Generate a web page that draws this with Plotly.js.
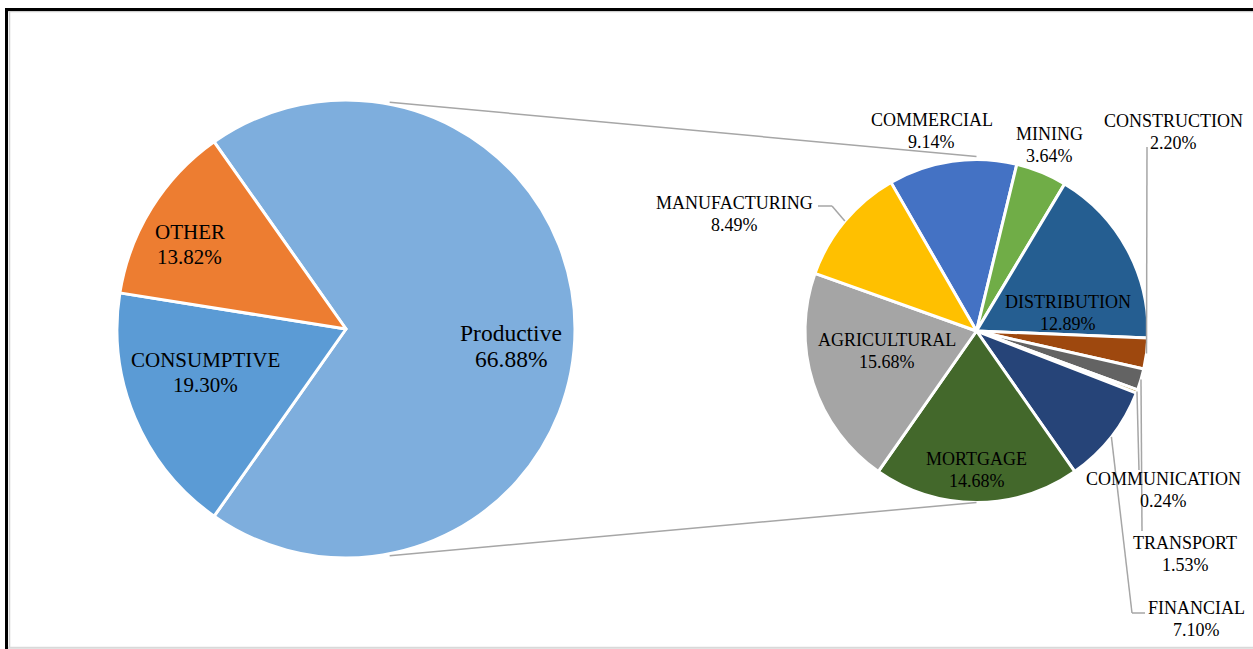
<!DOCTYPE html>
<html>
<head>
<meta charset="utf-8">
<script src="https://cdn.plot.ly/plotly-3.0.1.min.js"></script>
<style>
html,body{margin:0;padding:0;background:#fff;}
#chart{width:1253px;height:649px;}
</style>
</head>
<body>
<div id="chart"></div>
<script>
// ---------- DATA ----------
const mainLabels = ['Productive', 'CONSUMPTIVE', 'OTHER'];
const mainValues = [66.88, 19.30, 13.82];   // shown on the labels

const sectorLabels = ['COMMERCIAL', 'MINING', 'DISTRIBUTION', 'CONSTRUCTION', 'TRANSPORT',
                      'COMMUNICATION', 'FINANCIAL', 'MORTGAGE', 'AGRICULTURAL', 'MANUFACTURING'];
const sectorValues = [9.14, 3.64, 12.89, 2.20, 1.53, 0.24, 7.10, 14.68, 15.68, 8.49];

// ---------- STYLE / LAYOUT ----------
const mainColors = ['#7EAEDD', '#5B9BD5', '#ED7D31'];
const sectorColors = ['#4472C4', '#70AD47', '#255E91', '#9E480E', '#636363',
                      '#997300', '#264478', '#43682B', '#A5A5A5', '#FFC000'];

const W = 1253, H = 649;
const G1 = {cx: 346, cy: 329, r: 229};     // first pie (px)
const G2 = {cx: 976.5, cy: 331, r: 171.5}; // second pie (px)
const FONT = 'Liberation Serif, Times New Roman, serif';
const LINE_GRAY = '#A6A6A6';

// inside label placement: radius fraction, angle offset from slice mid (deg)
const insideMain = {
  'Productive':  {f: 0.724, d: 5.9,  size: 23.5, gap: 26},
  'CONSUMPTIVE': {f: 0.641, d: 5.5,  size: 21,   gap: 25},
  'OTHER':       {f: 0.776, d: -3.4, size: 21,   gap: 25}
};
const insideSector = {
  'DISTRIBUTION': {f: 0.544, d: 17.2},
  'AGRICULTURAL': {f: 0.535, d: 5.1},
  'MORTGAGE':     {f: 0.81,  d: 0}
};
// outside label placement (px) and leader waypoints
const outsideSector = {
  'MANUFACTURING': {x: 734,  y: 214, path: [[818, 206], [832, 206]]},
  'COMMERCIAL':    {x: 932,  y: 131, path: null},
  'MINING':        {x: 1049, y: 145, path: null},
  'CONSTRUCTION':  {x: 1173, y: 132, path: [[1147, 147]]},
  'TRANSPORT':     {x: 1185, y: 554, path: [[1142, 531]]},
  'COMMUNICATION': {x: 1163, y: 490, path: [[1139, 470]]},
  'FINANCIAL':     {x: 1196, y: 619, path: [[1145, 613], [1132, 613]]}
};
const sectorFont = 18, sectorGap = 22;
const connectorAngle = 11; // deg from vertical on first pie

// ---------- HELPERS ----------
const X = x => x / W;
const Y = y => 1 - y / H;
const sum = a => a.reduce((p, q) => p + q, 0);
function polar(g, thetaDeg, frac) {
  const t = thetaDeg * Math.PI / 180;
  return [g.cx + g.r * frac * Math.sin(t), g.cy - g.r * frac * Math.cos(t)];
}
function domainOf(g) {
  return {x: [X(g.cx - g.r), X(g.cx + g.r)], y: [Y(g.cy + g.r), Y(g.cy - g.r)]};
}
function midAngles(values, rotation) {
  const tot = sum(values);
  let acc = rotation; const mids = [];
  values.forEach(v => { const a = v / tot * 360; mids.push(acc + a / 2); acc += a; });
  return mids;
}
const fmt = v => v.toFixed(2) + '%';

// As in a pie-of-pie, the split slice of the first pie is the total of the second pie
const firstPieValues = [sum(sectorValues), mainValues[1], mainValues[2]];

// rotations: productive centred on the right, mortgage centred at the bottom
const rot1 = 90 - (firstPieValues[0] / sum(firstPieValues) * 360) / 2;
const iM = sectorLabels.indexOf('MORTGAGE');
const rot2 = 180 - (sum(sectorValues.slice(0, iM)) + sectorValues[iM] / 2) / sum(sectorValues) * 360;

const mids1 = midAngles(firstPieValues, rot1);
const mids2 = midAngles(sectorValues, rot2);

// ---------- TRACES ----------
const traces = [
  {
    type: 'pie', labels: mainLabels, values: firstPieValues, sort: false,
    direction: 'clockwise', rotation: rot1, domain: domainOf(G1),
    marker: {colors: mainColors, line: {color: '#FFFFFF', width: 3}},
    textinfo: 'none', hoverinfo: 'label', showlegend: false
  },
  {
    type: 'pie', labels: sectorLabels, values: sectorValues, sort: false,
    direction: 'clockwise', rotation: rot2, domain: domainOf(G2),
    marker: {colors: sectorColors, line: {color: '#FFFFFF', width: 3}},
    textinfo: 'none', hoverinfo: 'label+value', showlegend: false
  }
];

// ---------- ANNOTATIONS ----------
const annotations = [];
function addLabel(name, val, x, y, size, gap) {
  annotations.push({xref: 'paper', yref: 'paper', x: X(x), y: Y(y - gap / 2), text: name,
    showarrow: false, xanchor: 'center', yanchor: 'middle', font: {family: FONT, size: size, color: '#000'}});
  annotations.push({xref: 'paper', yref: 'paper', x: X(x), y: Y(y + gap / 2), text: fmt(val),
    showarrow: false, xanchor: 'center', yanchor: 'middle', font: {family: FONT, size: size, color: '#000'}});
}
mainLabels.forEach((lab, i) => {
  const c = insideMain[lab];
  const p = polar(G1, mids1[i] + c.d, c.f);
  addLabel(lab, mainValues[i], p[0], p[1], c.size, c.gap);
});

const shapes = [];
function seg(x0, y0, x1, y1, color, width) {
  shapes.push({type: 'line', xref: 'paper', yref: 'paper', x0: X(x0), y0: Y(y0), x1: X(x1), y1: Y(y1),
    line: {color: color, width: width}});
}
sectorLabels.forEach((lab, i) => {
  if (insideSector[lab]) {
    const c = insideSector[lab];
    const p = polar(G2, mids2[i] + c.d, c.f);
    addLabel(lab, sectorValues[i], p[0], p[1], sectorFont, sectorGap);
  } else if (outsideSector[lab]) {
    const o = outsideSector[lab];
    addLabel(lab, sectorValues[i], o.x, o.y, sectorFont, sectorGap);
    if (o.path) {
      const pts = o.path.concat([polar(G2, mids2[i], 1)]);
      for (let k = 0; k < pts.length - 1; k++) {
        seg(pts[k][0], pts[k][1], pts[k + 1][0], pts[k + 1][1], LINE_GRAY, 1.5);
      }
    }
  }
});

// connector lines between the pies
const cTop = polar(G1, connectorAngle, 1), cBot = polar(G1, 180 - connectorAngle, 1);
const rTop = polar(G2, 0, 1), rBot = polar(G2, 180, 1);
seg(cTop[0], cTop[1] - 2, rTop[0], rTop[1] - 3, LINE_GRAY, 1.5);
seg(cBot[0], cBot[1] + 2, rBot[0], rBot[1], LINE_GRAY, 1.5);

// frame
seg(8, 11.5, W, 11.5, '#CFCFCF', 1.5);
seg(9.5, 11, 9.5, 647, '#CFCFCF', 1.5);
seg(8, 647.8, W, 647.8, '#D9D9D9', 2);
seg(5, 9.5, W, 9.5, '#000000', 3);
seg(6.5, 8, 6.5, H, '#000000', 3);

const layout = {
  width: W, height: H,
  margin: {l: 0, r: 0, t: 0, b: 0, pad: 0},
  paper_bgcolor: '#FFFFFF', plot_bgcolor: '#FFFFFF',
  showlegend: false,
  annotations: annotations,
  shapes: shapes
};

Plotly.newPlot('chart', traces, layout, {displayModeBar: false, staticPlot: true});
</script>
</body>
</html>
